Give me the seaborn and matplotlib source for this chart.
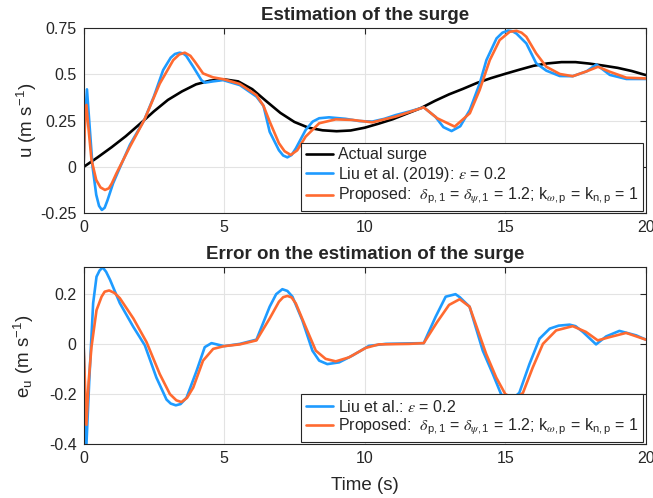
import numpy as np
import pandas as pd
import matplotlib
matplotlib.use("Agg")
import matplotlib.pyplot as plt
import seaborn as sns

# ---------------- data ----------------
t_actual = [0, 0.5, 1, 1.5, 2, 2.5, 3, 3.5, 4, 4.5, 5, 5.5, 6, 6.5, 7, 7.5, 8, 8.5, 9, 9.5,
            10, 10.5, 11, 11.5, 12, 12.5, 13, 13.5, 14, 14.5, 15, 15.5, 16, 16.5, 17, 17.5,
            18, 18.5, 19, 19.5, 20]
u_actual = [0, 0.052, 0.107, 0.166, 0.232, 0.300, 0.362, 0.408, 0.446, 0.466, 0.473, 0.462,
            0.420, 0.355, 0.292, 0.243, 0.212, 0.198, 0.193, 0.197, 0.212, 0.234, 0.258,
            0.288, 0.318, 0.357, 0.392, 0.422, 0.454, 0.480, 0.503, 0.525, 0.546, 0.559,
            0.566, 0.566, 0.558, 0.547, 0.535, 0.518, 0.496]

t_liu = [0, 0.05, 0.12, 0.2, 0.32, 0.45, 0.55, 0.65, 0.75, 0.85, 1.05, 1.3, 1.65, 2.16, 2.5,
         2.83, 3.1, 3.25, 3.42, 3.55, 3.65, 3.9, 4.19, 4.31, 4.6, 4.96, 5.56, 6.15, 6.4,
         6.62, 6.95, 7.1, 7.25, 7.4, 7.55, 7.9, 8.15, 8.38, 8.73, 9.32, 9.8, 10.27, 10.7,
         11.1, 11.6, 12.1, 12.52, 12.8, 13.09, 13.4, 13.74, 14.09, 14.33, 14.69, 14.9,
         15.1, 15.25, 15.4, 15.75, 16.1, 16.46, 16.94, 17.4, 17.89, 18.24, 18.72, 19.31, 20]
u_liu = [0, 0.25, 0.419, 0.25, 0.0, -0.15, -0.21, -0.232, -0.22, -0.18, -0.088, 0.0, 0.12,
         0.254, 0.38, 0.523, 0.59, 0.61, 0.617, 0.612, 0.6, 0.541, 0.469, 0.455, 0.462,
         0.469, 0.442, 0.38, 0.33, 0.19, 0.09, 0.062, 0.052, 0.065, 0.1, 0.2, 0.245, 0.263,
         0.268, 0.26, 0.248, 0.245, 0.26, 0.28, 0.3, 0.322, 0.27, 0.215, 0.194, 0.22, 0.308,
         0.45, 0.577, 0.694, 0.725, 0.736, 0.733, 0.72, 0.667, 0.56, 0.52, 0.491, 0.49,
         0.516, 0.553, 0.497, 0.475, 0.475]

t_prop = [0, 0.05, 0.1, 0.18, 0.28, 0.45, 0.6, 0.76, 0.9, 1.0, 1.17, 1.65, 2.16, 2.71, 3.19,
          3.4, 3.6, 3.8, 3.96, 4.25, 4.6, 5, 5.56, 6.15, 6.4, 6.62, 6.95, 7.15, 7.37, 7.6,
          7.9, 8.38, 8.97, 9.56, 10.27, 11.1, 12.1, 12.58, 13.2, 13.74, 14.09, 14.45, 14.8,
          15.16, 15.4, 15.58, 15.75, 16.1, 16.46, 16.94, 17.4, 17.89, 18.3, 18.72, 19.31, 20]
u_prop = [0, 0.25, 0.335, 0.2, 0.04, -0.07, -0.11, -0.124, -0.115, -0.09, -0.034, 0.11,
          0.254, 0.45, 0.577, 0.607, 0.617, 0.6, 0.568, 0.505, 0.484, 0.473, 0.448, 0.388,
          0.33, 0.245, 0.128, 0.085, 0.065, 0.09, 0.164, 0.236, 0.257, 0.254, 0.241, 0.272,
          0.322, 0.263, 0.218, 0.29, 0.416, 0.577, 0.685, 0.73, 0.735, 0.725, 0.703, 0.613,
          0.541, 0.502, 0.49, 0.516, 0.541, 0.514, 0.482, 0.478]

t_err_liu = [0, 0.1, 0.2, 0.34, 0.46, 0.57, 0.68, 0.8, 0.94, 1.29, 1.77, 2.18, 2.59, 2.95,
             3.1, 3.28, 3.45, 3.66, 4.02, 4.31, 4.55, 5, 5.56, 6.15, 6.62, 6.85, 7.07, 7.25,
             7.43, 7.78, 8.14, 8.38, 8.67, 9.09, 9.56, 10.15, 10.75, 11.58, 12.1, 12.52,
             12.88, 13.23, 13.38, 13.73, 14.2, 14.56, 14.85, 15.15, 15.5, 15.86, 16.22, 16.58,
             16.9, 17.29, 17.5, 17.76, 18.23, 18.59, 19.06, 19.66, 20]
e_liu = [0, -0.405, -0.15, 0.164, 0.27, 0.295, 0.307, 0.29, 0.258, 0.164, 0.069, -0.005,
         -0.134, -0.222, -0.238, -0.245, -0.24, -0.215, -0.107, -0.012, 0.004, -0.008, 0.001,
         0.018, 0.15, 0.2, 0.22, 0.213, 0.19, 0.096, -0.026, -0.066, -0.08, -0.073, -0.046,
         -0.007, 0.001, 0.003, 0.004, 0.109, 0.19, 0.2, 0.188, 0.15, -0.026, -0.12, -0.2,
         -0.23, -0.195, -0.08, 0.022, 0.062, 0.074, 0.078, 0.072, 0.049, -0.001, 0.031,
         0.053, 0.035, 0.018]

t_err_prop = [0, 0.1, 0.18, 0.28, 0.46, 0.64, 0.75, 0.91, 1.1, 1.29, 1.77, 2.24, 2.71, 3.07,
              3.3, 3.48, 3.68, 3.9, 4.25, 4.61, 5, 5.56, 6.15, 6.62, 6.95, 7.1, 7.25, 7.4,
              7.55, 7.9, 8.26, 8.61, 8.97, 9.44, 10.04, 10.5, 11.58, 12.1, 12.58, 13.0, 13.38,
              13.73, 14.32, 14.68, 15.0, 15.35, 15.63, 15.98, 16.34, 16.81, 17.4, 17.87, 18.29,
              18.71, 19.3, 20]
e_prop = [0, -0.323, -0.15, -0.012, 0.136, 0.19, 0.21, 0.215, 0.205, 0.184, 0.103, 0.008,
          -0.12, -0.2, -0.225, -0.232, -0.215, -0.174, -0.066, -0.019, -0.008, -0.001, 0.015,
          0.103, 0.17, 0.188, 0.193, 0.187, 0.163, 0.069, -0.026, -0.059, -0.069, -0.053,
          -0.015, -0.001, 0.001, 0.004, 0.089, 0.157, 0.18, 0.15, -0.039, -0.134, -0.2,
          -0.22, -0.195, -0.093, 0.001, 0.055, 0.072, 0.049, 0.015, 0.028, 0.045, 0.018]

x_ticks = [0, 5, 10, 15, 20]
top_yticks = [-0.25, 0, 0.25, 0.5, 0.75]
top_yticklabels = ["-0.25", "0", "0.25", "0.5", "0.75"]
bot_yticks = [-0.4, -0.2, 0, 0.2]
bot_yticklabels = ["-0.4", "-0.2", "0", "0.2"]

lab_actual = "Actual surge"
lab_liu_top = r"Liu et al. (2019): $\epsilon$ = 0.2"
lab_liu_bot = r"Liu et al.: $\epsilon$ = 0.2"
lab_prop = (r"Proposed:  $\delta_{\mathregular{p,1}}$ = $\delta_{\psi\mathregular{,1}}$ = 1.2; "
            r"k$_{\omega\mathregular{,p}}$ = k$_{\mathregular{n,p}}$ = 1")

# ---------------- style ----------------
sns.set_style("white")
plt.rcParams["font.family"] = ["Liberation Sans", "DejaVu Sans"]
plt.rcParams["mathtext.fontset"] = "stix"
plt.rcParams["axes.unicode_minus"] = False

C_BLACK = "#000000"
C_BLUE = "#1E9BFF"
C_ORANGE = "#FF6A30"
TXT = "#262626"
LW = 1.9

fig = plt.figure(figsize=(6.53, 4.98), dpi=100)
ax1 = fig.add_axes([0.128, 0.5717, 0.861, 0.372])
ax2 = fig.add_axes([0.128, 0.1084, 0.861, 0.355])

df_act = pd.DataFrame({"t": t_actual, "v": u_actual})
df_liu = pd.DataFrame({"t": t_liu, "v": u_liu})
df_prop = pd.DataFrame({"t": t_prop, "v": u_prop})
df_eliu = pd.DataFrame({"t": t_err_liu, "v": e_liu})
df_eprop = pd.DataFrame({"t": t_err_prop, "v": e_prop})

kw = dict(x="t", y="v", sort=False, estimator=None, linewidth=LW)
sns.lineplot(data=df_act, ax=ax1, color=C_BLACK, label=lab_actual, **kw)
sns.lineplot(data=df_liu, ax=ax1, color=C_BLUE, label=lab_liu_top, **kw)
sns.lineplot(data=df_prop, ax=ax1, color=C_ORANGE, label=lab_prop, **kw)

sns.lineplot(data=df_eliu, ax=ax2, color=C_BLUE, label=lab_liu_bot, **kw)
sns.lineplot(data=df_eprop, ax=ax2, color=C_ORANGE, label=lab_prop, **kw)

for ax in (ax1, ax2):
    for line in ax.get_lines():
        line.set_solid_joinstyle("round")
        line.set_solid_capstyle("round")
    ax.set_xlim(0, 20)
    ax.set_xticks(x_ticks)
    ax.set_xticklabels([str(v) for v in x_ticks])
    ax.grid(True, color="#e3e3e3", linewidth=0.8)
    ax.set_axisbelow(True)
    for sp in ax.spines.values():
        sp.set_visible(True)
        sp.set_color(TXT)
        sp.set_linewidth(0.8)
    ax.tick_params(direction="in", length=4, width=0.8, colors=TXT, labelsize=11.5,
                   top=True, right=True, pad=5)
    ax.set_xlabel("")

ax1.set_ylim(-0.25, 0.75)
ax1.set_yticks(top_yticks)
ax1.set_yticklabels(top_yticklabels)
ax1.set_ylabel(r"u (m s$^{\mathregular{-1}}$)", fontsize=13.5, color=TXT)
ax1.yaxis.set_label_coords(-0.079, 0.5)
ax1.set_title("Estimation of the surge", fontsize=13.5, fontweight="bold", pad=6)

ax2.set_ylim(-0.4, 0.308)
ax2.set_yticks(bot_yticks)
ax2.set_yticklabels(bot_yticklabels)
ax2.set_ylabel(r"e$_{\mathregular{u}}$ (m s$^{\mathregular{-1}}$)", fontsize=13.5, color=TXT)
ax2.yaxis.set_label_coords(-0.084, 0.5)
ax2.set_xlabel("Time (s)", fontsize=13.5, color=TXT, labelpad=8)
ax2.set_title("Error on the estimation of the surge", fontsize=13.5, fontweight="bold", pad=6)

leg_kw = dict(loc="lower right", fontsize=11.5, frameon=True, fancybox=False,
              edgecolor=TXT, framealpha=1, borderaxespad=0, handlelength=1.7,
              handletextpad=0.3, labelspacing=0.15, borderpad=0.3)
l1 = ax1.legend(bbox_to_anchor=(0.995, 0.012), **leg_kw)
l2 = ax2.legend(bbox_to_anchor=(0.995, 0.013), **leg_kw)
for lg in (l1, l2):
    lg.get_frame().set_linewidth(0.8)
    for line in lg.get_lines():
        line.set_linewidth(LW)

fig.savefig("out.png", dpi=100)
